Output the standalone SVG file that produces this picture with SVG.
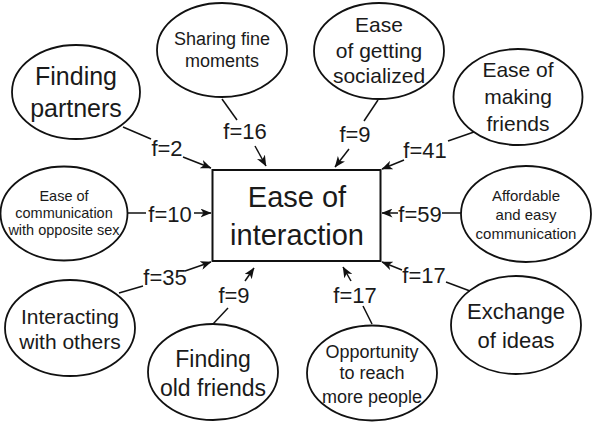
<svg xmlns="http://www.w3.org/2000/svg" width="592" height="422" viewBox="0 0 592 422">
<style>
.n{fill:#fff;stroke:#111;stroke-width:1.8}
.box{fill:#fff;stroke:#111;stroke-width:2}
text{font-family:"Liberation Sans",Arial,sans-serif;fill:#1a1a1a;text-anchor:middle}
.c line{stroke:#111;stroke-width:1.5}
.c .a{marker-end:url(#ah)}
.lab{font-size:22px}
</style>
<defs>
<marker id="ah" viewBox="0 0 11 9" refX="10.5" refY="4.5" markerWidth="11" markerHeight="9" markerUnits="userSpaceOnUse" orient="auto">
<path d="M0,0 L11,4.5 L0,9 L3,4.5 z" fill="#111"/>
</marker>
</defs>
<rect width="592" height="422" fill="#fff"/>
<g id="center">
<rect class="box" x="212.5" y="170" width="168" height="91"/>
<text x="297" y="207" font-size="29">Ease of</text>
<text x="297" y="245" font-size="29">interaction</text>
</g>
<g id="finding-partners">
<ellipse class="n" cx="76" cy="92" rx="64" ry="47"/>
<text x="76" y="85" font-size="25">Finding</text>
<text x="76" y="117" font-size="25">partners</text>
</g>
<g id="sharing">
<ellipse class="n" cx="222" cy="50" rx="65" ry="47"/>
<text x="222" y="45" font-size="18">Sharing fine</text>
<text x="222" y="67" font-size="18">moments</text>
</g>
<g id="socialized">
<ellipse class="n" cx="379" cy="51" rx="65" ry="48"/>
<text x="379" y="32" font-size="21">Ease</text>
<text x="379" y="58" font-size="21">of getting</text>
<text x="379" y="83" font-size="21">socialized</text>
</g>
<g id="making-friends">
<ellipse class="n" cx="518" cy="97" rx="64.5" ry="48"/>
<text x="518" y="77" font-size="21">Ease of</text>
<text x="518" y="104" font-size="21">making</text>
<text x="518" y="131" font-size="21">friends</text>
</g>
<g id="communication-opposite">
<ellipse class="n" cx="64" cy="213.5" rx="63.5" ry="47"/>
<text x="64" y="201" font-size="14.5">Ease of</text>
<text x="64" y="218" font-size="14.5">communication</text>
<text x="64" y="235" font-size="14.5">with opposite sex</text>
</g>
<g id="affordable">
<ellipse class="n" cx="526" cy="214" rx="65" ry="48"/>
<text x="526" y="201" font-size="15">Affordable</text>
<text x="526" y="220" font-size="15">and easy</text>
<text x="526" y="239" font-size="15">communication</text>
</g>
<g id="interacting">
<ellipse class="n" cx="70" cy="328" rx="65" ry="48"/>
<text x="70" y="324" font-size="21">Interacting</text>
<text x="70" y="349" font-size="21">with others</text>
</g>
<g id="old-friends">
<ellipse class="n" cx="213" cy="372" rx="65" ry="48"/>
<text x="213" y="367" font-size="23">Finding</text>
<text x="213" y="396" font-size="23">old friends</text>
</g>
<g id="opportunity">
<ellipse class="n" cx="372" cy="373" rx="65" ry="47.5"/>
<text x="372" y="358" font-size="18">Opportunity</text>
<text x="372" y="379" font-size="18">to reach</text>
<text x="372" y="403" font-size="18">more people</text>
</g>
<g id="exchange">
<ellipse class="n" cx="516" cy="325" rx="65" ry="49"/>
<text x="516" y="319" font-size="22">Exchange</text>
<text x="516" y="348" font-size="22">of ideas</text>
</g>
<g id="connectors" class="c">
<line x1="123" y1="127" x2="151" y2="139"/>
<text class="lab" x="167" y="156">f=2</text>
<line class="a" x1="183" y1="157" x2="211" y2="168"/>
<line x1="222" y1="99" x2="237" y2="120"/>
<text class="lab" x="245" y="139">f=16</text>
<line class="a" x1="255" y1="146" x2="266" y2="166"/>
<line x1="378" y1="100" x2="364" y2="121"/>
<text class="lab" x="355" y="142">f=9</text>
<line class="a" x1="349" y1="149" x2="335" y2="167"/>
<line x1="474" y1="132" x2="448" y2="141"/>
<text class="lab" x="425" y="158">f=41</text>
<line class="a" x1="404" y1="160" x2="382" y2="169"/>
<line x1="128" y1="213" x2="146" y2="213"/>
<text class="lab" x="170" y="222">f=10</text>
<line class="a" x1="194" y1="213" x2="211" y2="213"/>
<line x1="461" y1="213" x2="442" y2="213"/>
<text class="lab" x="420" y="222">f=59</text>
<line class="a" x1="398" y1="213" x2="382" y2="213"/>
<line x1="119" y1="293" x2="143" y2="286"/>
<text class="lab" x="165" y="285">f=35</text>
<line class="a" x1="185" y1="271" x2="211" y2="262"/>
<line x1="213" y1="324" x2="228" y2="308"/>
<text class="lab" x="234" y="303">f=9</text>
<line class="a" x1="245" y1="281" x2="254" y2="268"/>
<line x1="372" y1="324" x2="363" y2="306"/>
<text class="lab" x="355" y="303">f=17</text>
<line class="a" x1="351" y1="281" x2="343" y2="267"/>
<line x1="470" y1="291" x2="446" y2="282"/>
<text class="lab" x="424" y="283">f=17</text>
<line class="a" x1="402" y1="270" x2="382" y2="262"/>
</g>
</svg>
